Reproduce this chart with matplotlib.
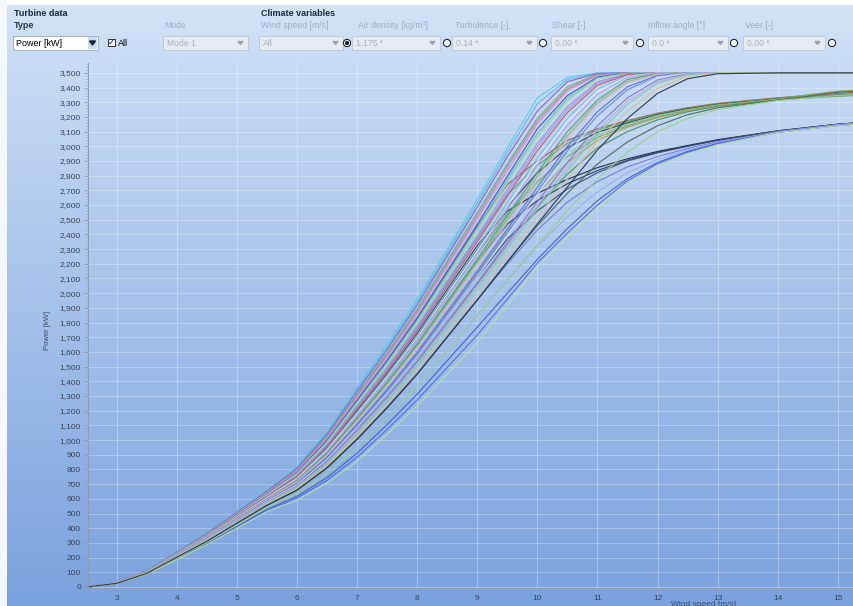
import numpy as np
import matplotlib.pyplot as plt
from matplotlib.patches import Rectangle, Circle, Polygon
from matplotlib.colors import LinearSegmentedColormap
from matplotlib.ticker import MultipleLocator, FuncFormatter

plt.rcParams['font.family'] = ['Liberation Sans', 'DejaVu Sans']

# wind speed grid [m/s]
wind_speed = [2.5, 3, 3.5, 4, 4.5, 5, 5.5, 6, 6.5, 7, 7.5, 8, 8.5, 9, 9.5,
              10, 10.5, 11, 11.5, 12, 12.5, 13, 14, 15, 16]

# power curves [kW] rated 3500
curves_3500 = [
    [0, 30, 110, 240, 370, 515, 660, 820, 1060, 1360, 1650, 1960, 2300, 2640, 2990, 3330, 3470, 3500, 3500, 3500, 3500, 3500, 3500, 3500, 3500],
    [0, 30, 109, 239, 368, 512, 656, 814, 1050, 1346, 1634, 1940, 2277, 2614, 2960, 3290, 3455, 3498, 3500, 3500, 3500, 3500, 3500, 3500, 3500],
    [0, 30, 109, 237, 366, 509, 652, 808, 1041, 1333, 1617, 1921, 2254, 2587, 2930, 3240, 3440, 3495, 3500, 3500, 3500, 3500, 3500, 3500, 3500],
    [0, 29, 108, 235, 362, 504, 646, 799, 1027, 1312, 1592, 1891, 2220, 2548, 2880, 3190, 3405, 3490, 3500, 3500, 3500, 3500, 3500, 3500, 3500],
    [0, 29, 107, 234, 360, 502, 643, 794, 1019, 1302, 1579, 1876, 2201, 2526, 2861, 3172, 3390, 3486, 3500, 3500, 3500, 3500, 3500, 3500, 3500],
    [0, 29, 107, 233, 359, 500, 640, 789, 1012, 1292, 1567, 1862, 2185, 2508, 2835, 3155, 3378, 3483, 3500, 3500, 3500, 3500, 3500, 3500, 3500],
    [0, 29, 106, 231, 356, 495, 634, 780, 998, 1272, 1543, 1833, 2150, 2468, 2796, 3120, 3345, 3472, 3500, 3500, 3500, 3500, 3500, 3500, 3500],
    [0, 29, 105, 229, 354, 492, 631, 775, 990, 1261, 1530, 1817, 2132, 2447, 2772, 3087, 3326, 3465, 3499, 3500, 3500, 3500, 3500, 3500, 3500],
    [0, 29, 105, 228, 352, 490, 628, 771, 984, 1251, 1518, 1803, 2116, 2429, 2751, 3065, 3310, 3460, 3498, 3500, 3500, 3500, 3500, 3500, 3500],
    [0, 28, 104, 226, 349, 486, 622, 762, 969, 1231, 1493, 1774, 2082, 2389, 2706, 3020, 3270, 3440, 3495, 3500, 3500, 3500, 3500, 3500, 3500],
    [0, 28, 103, 225, 347, 483, 619, 757, 961, 1220, 1480, 1758, 2063, 2368, 2682, 2996, 3251, 3428, 3492, 3500, 3500, 3500, 3500, 3500, 3500],
    [0, 28, 103, 224, 346, 481, 616, 752, 955, 1210, 1469, 1744, 2047, 2350, 2661, 2970, 3230, 3415, 3488, 3500, 3500, 3500, 3500, 3500, 3500],
    [0, 28, 102, 222, 342, 476, 610, 743, 941, 1190, 1444, 1715, 2013, 2310, 2616, 2920, 3190, 3390, 3480, 3500, 3500, 3500, 3500, 3500, 3500],
    [0, 28, 101, 221, 340, 474, 607, 738, 933, 1179, 1431, 1699, 1994, 2289, 2592, 2896, 3168, 3371, 3474, 3499, 3500, 3500, 3500, 3500, 3500],
    [0, 27, 101, 220, 339, 472, 605, 734, 926, 1170, 1419, 1686, 1978, 2270, 2571, 2872, 3145, 3355, 3470, 3499, 3500, 3500, 3500, 3500, 3500],
    [0, 27, 100, 218, 336, 467, 599, 725, 912, 1149, 1394, 1656, 1944, 2231, 2527, 2822, 3100, 3315, 3455, 3496, 3500, 3500, 3500, 3500, 3500],
    [0, 27, 99, 216, 334, 465, 595, 720, 904, 1138, 1381, 1641, 1925, 2210, 2503, 2796, 3073, 3296, 3440, 3493, 3500, 3500, 3500, 3500, 3500],
    [0, 27, 99, 216, 332, 462, 593, 715, 898, 1129, 1370, 1627, 1909, 2191, 2482, 2772, 3050, 3285, 3430, 3490, 3500, 3500, 3500, 3500, 3500],
    [0, 27, 98, 213, 329, 458, 587, 706, 884, 1108, 1345, 1597, 1875, 2152, 2437, 2722, 2999, 3235, 3405, 3482, 3500, 3500, 3500, 3500, 3500],
    [0, 27, 97, 212, 327, 455, 583, 701, 876, 1098, 1332, 1582, 1856, 2130, 2413, 2695, 2970, 3208, 3385, 3476, 3499, 3500, 3500, 3500, 3500],
    [0, 26, 97, 211, 326, 453, 581, 697, 869, 1088, 1320, 1568, 1840, 2112, 2392, 2672, 2944, 3185, 3370, 3472, 3498, 3500, 3500, 3500, 3500],
    [0, 26, 96, 209, 322, 449, 575, 688, 855, 1068, 1295, 1539, 1806, 2072, 2347, 2622, 2889, 3140, 3330, 3452, 3493, 3500, 3500, 3500, 3500],
    [0, 26, 95, 208, 320, 446, 572, 683, 847, 1057, 1282, 1523, 1787, 2051, 2323, 2595, 2859, 3110, 3306, 3438, 3490, 3500, 3500, 3500, 3500],
    [0, 26, 95, 207, 319, 444, 569, 679, 841, 1047, 1271, 1509, 1771, 2033, 2302, 2572, 2834, 3085, 3285, 3428, 3486, 3500, 3500, 3500, 3500],
    [0, 26, 94, 205, 316, 439, 563, 669, 826, 1027, 1246, 1480, 1737, 1993, 2257, 2522, 2778, 3032, 3240, 3395, 3476, 3498, 3500, 3500, 3500],
    [0, 25, 93, 203, 312, 435, 557, 660, 812, 1006, 1221, 1450, 1702, 1954, 2213, 2472, 2723, 2975, 3190, 3360, 3460, 3494, 3500, 3500, 3500],
]
colors_3500 = ['#4fd3e6', '#70b0e8', '#8c62c9', '#5cb860', '#c878b8', '#d58bd1',
               '#3a56c9', '#66c0b0', '#a3d89b', '#9f8fe0', '#a890d8', '#c05a6a',
               '#6fc9d9', '#e8e8f8', '#b8a0f0', '#4f9f6f', '#90b870', '#e0b0e0',
               '#5a6fd8', '#6a88e0', '#c8d8f8', '#8a7ac8', '#c0a8e8', '#7fd0a0',
               '#d8c090', '#2a3548']

# power curves [kW] ending near 3350
curves_3350 = [
    [0, 29, 105, 230, 354, 493, 632, 777, 993, 1265, 1535, 1823, 2139, 2455, 2740, 2900, 3040, 3120, 3175, 3225, 3262, 3292, 3330, 3360, 3385],
    [0, 28, 103, 226, 348, 484, 620, 759, 965, 1224, 1485, 1764, 2070, 2376, 2670, 2870, 3020, 3110, 3170, 3220, 3258, 3288, 3325, 3375, 3395],
    [0, 28, 101, 221, 341, 475, 609, 740, 936, 1183, 1436, 1705, 2001, 2297, 2590, 2820, 2990, 3095, 3160, 3215, 3255, 3285, 3322, 3350, 3370],
    [0, 27, 101, 220, 339, 472, 605, 734, 926, 1170, 1419, 1686, 1978, 2270, 2540, 2760, 2930, 3060, 3140, 3200, 3245, 3278, 3318, 3340, 3360],
    [0, 27, 99, 217, 334, 466, 597, 722, 907, 1142, 1386, 1646, 1932, 2218, 2500, 2750, 2950, 3075, 3150, 3210, 3250, 3282, 3320, 3348, 3368],
    [0, 27, 97, 213, 328, 456, 585, 703, 879, 1102, 1337, 1588, 1863, 2138, 2420, 2680, 2890, 3040, 3130, 3195, 3242, 3278, 3318, 3372, 3392],
    [0, 26, 95, 208, 321, 447, 573, 685, 850, 1061, 1287, 1529, 1794, 2059, 2330, 2590, 2810, 2990, 3100, 3180, 3235, 3272, 3315, 3345, 3365],
    [0, 25, 93, 203, 312, 435, 557, 660, 812, 1006, 1221, 1450, 1702, 1954, 2213, 2460, 2680, 2880, 3030, 3140, 3215, 3262, 3314, 3368, 3388],
    [0, 25, 90, 197, 303, 422, 541, 636, 774, 952, 1155, 1372, 1610, 1848, 2090, 2330, 2560, 2780, 2960, 3100, 3190, 3250, 3312, 3345, 3365],
]
colors_3350 = ['#a05a4a', '#5caa5c', '#2f3f52', '#6aa86a', '#88c888', '#b0a050',
               '#4a8f6a', '#4c6a5a', '#98d090']

# power curves [kW] ending near 3150
curves_3150 = [
    [0, 28, 102, 223, 343, 478, 612, 746, 946, 1197, 1452, 1725, 2024, 2323, 2560, 2680, 2775, 2855, 2915, 2965, 3005, 3045, 3105, 3150, 3180],
    [0, 27, 99, 217, 334, 466, 597, 722, 907, 1142, 1386, 1646, 1932, 2218, 2470, 2630, 2745, 2835, 2905, 2960, 3002, 3042, 3103, 3150, 3180],
    [0, 26, 97, 211, 326, 453, 581, 697, 869, 1088, 1320, 1568, 1840, 2112, 2370, 2560, 2710, 2820, 2900, 2955, 3000, 3040, 3105, 3150, 3178],
    [0, 25, 93, 203, 312, 435, 557, 660, 812, 1006, 1221, 1450, 1702, 1954, 2200, 2430, 2620, 2760, 2860, 2930, 2985, 3030, 3100, 3145, 3175],
    [0, 25, 90, 197, 303, 422, 541, 636, 774, 952, 1155, 1372, 1610, 1848, 2090, 2320, 2520, 2690, 2820, 2910, 2975, 3025, 3098, 3148, 3178],
    [0, 24, 88, 192, 297, 413, 529, 617, 745, 911, 1106, 1313, 1541, 1769, 2000, 2230, 2440, 2630, 2780, 2890, 2965, 3020, 3095, 3142, 3172],
    [0, 24, 87, 190, 292, 407, 521, 605, 726, 884, 1073, 1274, 1495, 1716, 1960, 2205, 2410, 2600, 2765, 2880, 2958, 3015, 3095, 3141, 3171],
    [0, 23, 86, 187, 288, 401, 513, 592, 707, 857, 1040, 1235, 1449, 1663, 1920, 2180, 2380, 2580, 2750, 2870, 2950, 3010, 3095, 3140, 3170],
]
colors_3150 = ['#1f2d44', '#2a3a5c', '#3a4f7a', '#7a7ad8', '#9ab0f0', '#4060d8',
               '#5070e0', '#b8e0a8']

W, H = 854, 606
fig = plt.figure(figsize=(W / 100, H / 100), dpi=100)

# background, drawn in pixel coordinates
bg = fig.add_axes([0, 0, 1, 1])
grad = np.linspace(0, 1, 300).reshape(-1, 1)
cmap = LinearSegmentedColormap.from_list(
    'bgc', [(0, '#d4e4f9'), (0.12, '#c6daf4'), (1, '#7aa2de')])
bg.imshow(grad, aspect='auto', cmap=cmap, extent=[0, W, H, 0])
bg.set_xlim(0, W)
bg.set_ylim(H, 0)
bg.axis('off')
bg.add_patch(Rectangle((0, 0), W, 5, color='white', lw=0))
bg.add_patch(Rectangle((0, 0), 7, H, color='#f4f8fd', lw=0))

dark = '#1c2a40'
grey = '#a3adbd'
bg.text(14, 13, 'Turbine data', fontsize=6.5, weight='bold', color=dark, va='center')
bg.text(14, 25, 'Type', fontsize=6.5, weight='bold', color='#2c3a50', va='center')
bg.text(261, 13, 'Climate variables', fontsize=6.5, weight='bold', color=dark, va='center')

labels = [(164, 'Mode'), (261, 'Wind speed [m/s]'), (358, 'Air density [kg/m³]'),
          (455, 'Turbulence [-]'), (552, 'Shear [-]'), (648, 'Inflow angle [°]'), (745, 'Veer [-]')]
for x, t in labels:
    bg.text(x, 25, t, fontsize=6.2, color=grey, va='center')

# enabled dropdown + checkbox
bg.add_patch(Rectangle((13, 36), 85, 14, facecolor='white', edgecolor='#9aa8bc', lw=0.6))
bg.add_patch(Rectangle((88, 37), 9, 12, facecolor='#c8dcf4', edgecolor='none'))
bg.add_patch(Polygon([[89.5, 41], [95.5, 41], [92.5, 45]], closed=True, color='#1a2640'))
bg.text(16, 43, 'Power [kW]', fontsize=6.5, color='black', va='center')
bg.add_patch(Rectangle((108, 39), 7, 7, facecolor='white', edgecolor='#2a3040', lw=0.7))
bg.text(111.5, 42.5, '✓', fontsize=6, color='#101820', ha='center', va='center', family=['DejaVu Sans'])
bg.text(118, 43, 'All', fontsize=6.5, color='black', va='center')

# disabled dropdowns
boxes = [(163, 248, 'Mode 1'), (259, 343, 'All'), (352, 440, '1.175 *'),
         (452, 537, '0.14 *'), (551, 633, '0.00 *'), (648, 728, '0.0 *'), (743, 825, '0.00 *')]
for x0, x1, t in boxes:
    bg.add_patch(Rectangle((x0, 36), x1 - x0, 14, facecolor='#e6ebf2', edgecolor='#bcc6d4', lw=0.6))
    bg.text(x0 + 4, 43, t, fontsize=6.2, color='#aab2c0', va='center')
    bg.add_patch(Polygon([[x1 - 10, 41.5], [x1 - 5, 41.5], [x1 - 7.5, 44.5]], closed=True, color='#9aa4b4'))

radios = [347, 447, 543, 640, 734, 832]
for i, x in enumerate(radios):
    bg.add_patch(Circle((x, 43), 3.6, facecolor='white', edgecolor='#1c2430', lw=0.8))
    if i == 0:
        bg.add_patch(Circle((x, 43), 1.4, color='#1c2430'))

bg.text(48, 330, 'Power [kW]', fontsize=5.5, color='#3c4a66', rotation=90, ha='center', va='center')
bg.text(704, 604, 'Wind speed [m/s]', fontsize=6, color='#3c4a66', ha='center', va='center')

# chart
ax = fig.add_axes([88 / W, 1 - 588 / H, 766 / W, 525 / H])
ax.set_facecolor('none')
for curves, cols in [(curves_3150, colors_3150), (curves_3350, colors_3350), (curves_3500, colors_3500)]:
    for c, col in zip(curves, cols):
        ax.plot(wind_speed, c, color=col, lw=0.85, alpha=0.92)

ax.set_xlim(2.52, 15.27)
ax.set_ylim(-7, 3567)
ax.yaxis.set_major_locator(MultipleLocator(100))
ax.yaxis.set_minor_locator(MultipleLocator(20))
ax.xaxis.set_major_locator(MultipleLocator(1))
ax.xaxis.set_minor_locator(MultipleLocator(0.2))
ax.yaxis.set_major_formatter(FuncFormatter(lambda v, p: f'{v:,.0f}'))
ax.grid(which='major', color='white', alpha=0.35, lw=0.6)
ax.set_axisbelow(True)
for s in ['top', 'right']:
    ax.spines[s].set_visible(False)
for s in ['left', 'bottom']:
    ax.spines[s].set_color('#8d9cb6')
    ax.spines[s].set_linewidth(0.7)
ax.tick_params(which='major', length=3, width=0.6, color='#8d9cb6', labelsize=6, labelcolor='#3a4458', pad=2)
ax.tick_params(which='minor', length=1.8, width=0.5, color='#9aa8c0')

fig.savefig('out.png', dpi=100)
